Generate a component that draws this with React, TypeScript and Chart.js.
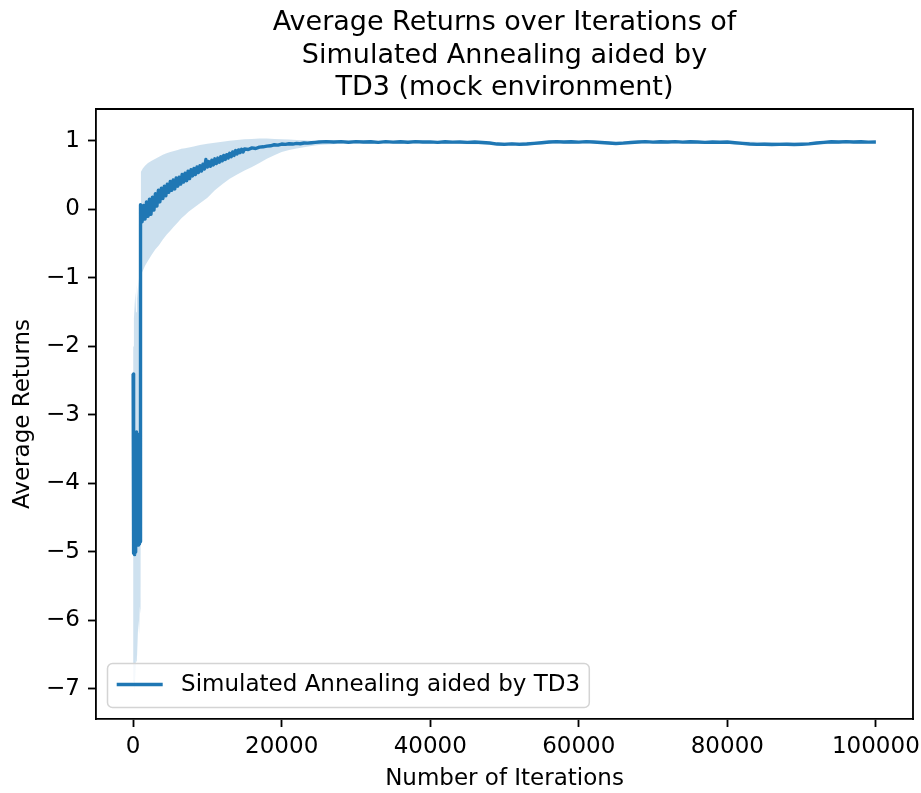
import React, { useEffect, useRef } from "react";
import { Chart, registerables } from "chart.js";

Chart.register(...registerables);

// ---------------- data ----------------
const TITLE_LINES = [
  "Average Returns over Iterations of",
  "Simulated Annealing aided by",
  "TD3 (mock environment)",
];
const SERIES_LABEL = "Simulated Annealing aided by TD3";
const X_TITLE = "Number of Iterations";
const Y_TITLE = "Average Returns";
const X_TICKS = [0, 20000, 40000, 60000, 80000, 100000];
const Y_TICKS = [-7, -6, -5, -4, -3, -2, -1, 0, 1];

const ITERATIONS = [
  0, 25, 50, 75, 100, 125, 150, 175, 200, 225, 250, 275, 300, 325, 350, 375, 400,
  425, 450, 475, 500, 525, 550, 575, 600, 625, 650, 675, 700, 725, 750, 775, 800,
  825, 850, 875, 900, 925, 950, 975, 1000,
  1050, 1200, 1400, 1600, 1800, 2000, 2200, 2400, 2600, 2800, 3000, 3200, 3400,
  3600, 3800, 4000, 4200, 4400, 4600, 4800, 5000, 5200, 5400, 5600, 5800, 6000,
  6200, 6400, 6600, 6800, 7000, 7200, 7400, 7600, 7800, 8000, 8200, 8400, 8600,
  8800, 9000, 9200, 9400, 9600, 9800, 10000, 10200, 10400, 10600, 10800, 11000,
  11200, 11400, 11600, 11800, 12000, 12200, 12400, 12600, 12800, 13000, 13200,
  13400, 13600, 13800, 14000, 14200, 14400, 14600, 14800, 15000,
  15500, 16000, 16500, 17000, 17500, 18000, 18500, 19000, 19500, 20000, 20500,
  21000, 21500, 22000, 22500, 23000, 23500, 24000, 24500, 25000,
  26000, 27000, 28000, 29000, 30000, 31000, 32000, 33000, 34000, 35000, 36000,
  37000, 38000, 39000, 40000, 41000, 42000, 43000, 44000, 45000, 46000, 47000,
  48000, 49000, 50000, 51000, 52000, 53000, 54000, 55000, 56000, 57000, 58000,
  59000, 60000, 61000, 62000, 63000, 64000, 65000, 66000, 67000, 68000, 69000,
  70000, 71000, 72000, 73000, 74000, 75000, 76000, 77000, 78000, 79000, 80000,
  81000, 82000, 83000, 84000, 85000, 86000, 87000, 88000, 89000, 90000, 91000,
  92000, 93000, 94000, 95000, 96000, 97000, 98000, 99000, 100000,
];

const AVG_RETURNS = [
  -2.4, -4.98, -3.45, -5.02, -3.6, -4.7, -3.4, -5.04, -3.9, -4.85, -3.38, -4.95,
  -3.7, -5.0, -3.5, -4.6, -3.26, -4.88, -3.3, -4.5, -3.25, -4.9, -3.6, -4.75,
  -3.28, -4.85, -3.9, -4.6, -3.3, -4.9, -3.5, -4.7, -3.35, -4.88, -3.8, -4.55,
  -3.4, -4.8, -3.7, -4.85, -4.38,
  0.07, -0.18, 0.06, -0.14, 0.11, -0.1, 0.15, -0.07, 0.18, -0.01, 0.23, 0.05, 0.28,
  0.11, 0.31, 0.16, 0.34, 0.2, 0.37, 0.25, 0.41, 0.28, 0.43, 0.3, 0.46, 0.34,
  0.47, 0.37, 0.51, 0.4, 0.53, 0.42, 0.56, 0.45, 0.58, 0.49, 0.6, 0.51, 0.62,
  0.54, 0.64, 0.56, 0.66, 0.59, 0.73, 0.62, 0.7, 0.63, 0.72, 0.65, 0.74,
  0.67, 0.75, 0.69, 0.77, 0.71, 0.79, 0.73, 0.8, 0.75, 0.82, 0.77,
  0.84, 0.79, 0.86, 0.81, 0.87, 0.83, 0.88, 0.84, 0.885,
  0.875, 0.9, 0.89, 0.91, 0.915, 0.925, 0.93, 0.945, 0.94, 0.955, 0.95,
  0.96, 0.955, 0.965, 0.96, 0.97, 0.968, 0.975, 0.98, 0.985,
  0.99, 0.985, 0.99, 0.982, 0.99, 0.985, 0.988, 0.98, 0.99, 0.984, 0.988,
  0.982, 0.99, 0.985, 0.987, 0.98, 0.988, 0.984, 0.986, 0.98, 0.985, 0.978,
  0.97, 0.955, 0.95, 0.958, 0.95, 0.955, 0.965, 0.975, 0.985, 0.99, 0.985,
  0.988, 0.984, 0.99, 0.985, 0.978, 0.97, 0.962, 0.968, 0.978, 0.985, 0.99,
  0.984, 0.988, 0.985, 0.99, 0.983, 0.988, 0.985, 0.98, 0.986, 0.982, 0.985,
  0.975, 0.965, 0.955, 0.95, 0.952, 0.948, 0.95, 0.953, 0.948, 0.952, 0.958,
  0.97, 0.98, 0.988, 0.985, 0.99, 0.985, 0.988, 0.984, 0.985,
];

const BAND_ITERATIONS = [
  0, 100, 200, 300, 400, 500, 600, 700, 800, 900, 1000, 1050, 1300, 1600, 2000,
  2500, 3000, 3500, 4000, 4500, 5000, 5500, 6000, 6500, 7000, 7500, 8000, 9000,
  10000, 11000, 12000, 13000, 14000, 15000, 16000, 17000, 18000, 19000, 20000,
  21000, 22000, 23000, 24000, 25000, 26000, 28000, 30000, 40000, 50000, 60000,
  70000, 80000, 90000, 100000,
];
const BAND_LOWER = [
  -6.2, -6.9, -7.03, -6.8, -6.5, -6.6, -6.3, -6.0, -6.2, -5.8, -5.9, -0.95, -0.9,
  -0.82, -0.75, -0.66, -0.58, -0.52, -0.44, -0.37, -0.31, -0.25, -0.19, -0.13,
  -0.08, -0.03, 0.01, 0.09, 0.17, 0.28, 0.37, 0.45, 0.51, 0.57, 0.62, 0.68, 0.74,
  0.79, 0.84, 0.87, 0.89, 0.91, 0.925, 0.94, 0.95, 0.96, 0.965, 0.965, 0.945,
  0.965, 0.965, 0.96, 0.945, 0.97,
];
const BAND_UPPER = [
  -2.0, -1.6, -1.4, -1.2, -1.5, -1.1, -1.3, -1.0, -1.2, -0.9, -1.0, 0.55, 0.6,
  0.64, 0.68, 0.71, 0.74, 0.77, 0.8, 0.82, 0.84, 0.855, 0.87, 0.885, 0.895,
  0.905, 0.915, 0.94, 0.96, 0.975, 0.99, 1.005, 1.015, 1.025, 1.03, 1.035, 1.035,
  1.03, 1.025, 1.02, 1.015, 1.01, 1.005, 1.0, 1.0, 1.0, 1.0, 1.0, 0.98, 1.0, 1.0,
  0.995, 0.975, 1.0,
];

// ---------------- chart ----------------
const FONT = "'DejaVu Sans', sans-serif";
const BLUE = "#1f77b4";

export default function App() {
  const ref = useRef<HTMLCanvasElement | null>(null);

  useEffect(() => {
    document.body.style.margin = "0";
    const canvas = ref.current;
    if (!canvas) return;

    const decor = {
      id: "mplDecor",
      afterDraw(chart: any) {
        const { ctx, chartArea: a } = chart;
        ctx.save();
        // top & right spines
        ctx.strokeStyle = "#000";
        ctx.lineWidth = 1.83;
        ctx.beginPath();
        ctx.moveTo(a.left - 0.9, a.top);
        ctx.lineTo(a.right, a.top);
        ctx.lineTo(a.right, a.bottom + 0.9);
        ctx.stroke();

        // title
        ctx.fillStyle = "#000";
        ctx.font = `27px ${FONT}`;
        ctx.textAlign = "center";
        ctx.textBaseline = "alphabetic";
        const cx = (a.left + a.right) / 2;
        const n = TITLE_LINES.length;
        TITLE_LINES.forEach((line, i) => {
          ctx.fillText(line, cx, a.top - 14 - (n - 1 - i) * 32.5);
        });

        // legend (lower left)
        ctx.font = `23px ${FONT}`;
        const tw = ctx.measureText(SERIES_LABEL).width;
        const fs = 23;
        const bx = a.left + 0.5 * fs;
        const bh = 44;
        const by = a.bottom - 0.5 * fs - bh;
        const bw = 0.4 * fs + 2 * fs + 0.8 * fs + tw + 0.4 * fs;
        const r = 5;
        ctx.beginPath();
        ctx.moveTo(bx + r, by);
        ctx.arcTo(bx + bw, by, bx + bw, by + bh, r);
        ctx.arcTo(bx + bw, by + bh, bx, by + bh, r);
        ctx.arcTo(bx, by + bh, bx, by, r);
        ctx.arcTo(bx, by, bx + bw, by, r);
        ctx.closePath();
        ctx.fillStyle = "rgba(255,255,255,0.8)";
        ctx.fill();
        ctx.strokeStyle = "#d4d4d4";
        ctx.lineWidth = 1.5;
        ctx.stroke();
        const ly = by + bh / 2 - 1;
        ctx.strokeStyle = BLUE;
        ctx.lineWidth = 3.4;
        ctx.beginPath();
        ctx.moveTo(bx + 0.4 * fs, ly);
        ctx.lineTo(bx + 0.4 * fs + 2 * fs, ly);
        ctx.stroke();
        ctx.fillStyle = "#000";
        ctx.textAlign = "left";
        ctx.textBaseline = "middle";
        ctx.fillText(SERIES_LABEL, bx + 0.4 * fs + 2.8 * fs, by + bh / 2);
        ctx.restore();
      },
    };

    const tickFont = { family: FONT, size: 23 };

    const chart = new Chart(canvas, {
      type: "line",
      data: {
        datasets: [
          {
            label: SERIES_LABEL,
            data: ITERATIONS.map((x, i) => ({ x, y: AVG_RETURNS[i] })),
            borderColor: BLUE,
            borderWidth: 3.4,
            borderJoinStyle: "round",
            pointRadius: 0,
            fill: false,
            tension: 0,
          },
          {
            label: "upper",
            data: BAND_ITERATIONS.map((x, i) => ({ x, y: BAND_UPPER[i] })),
            borderColor: "rgba(0,0,0,0)",
            borderWidth: 0,
            pointRadius: 0,
            backgroundColor: "rgba(31,119,180,0.22)",
            fill: "+1",
            tension: 0,
          },
          {
            label: "lower",
            data: BAND_ITERATIONS.map((x, i) => ({ x, y: BAND_LOWER[i] })),
            borderColor: "rgba(0,0,0,0)",
            borderWidth: 0,
            pointRadius: 0,
            fill: false,
            tension: 0,
          },
        ],
      },
      options: {
        animation: false,
        responsive: true,
        maintainAspectRatio: false,
        devicePixelRatio: 1,
        events: [],
        layout: { padding: { top: 109, right: 8, bottom: 0, left: 0 } },
        plugins: {
          legend: { display: false },
          title: { display: false },
          tooltip: { enabled: false },
        },
        scales: {
          x: {
            type: "linear",
            min: -5000,
            max: 105000,
            afterBuildTicks: (s: any) => {
              s.ticks = X_TICKS.map((v) => ({ value: v }));
            },
            afterFit: (s: any) => {
              s.height = 74;
              s.paddingLeft = 0;
              s.paddingRight = 0;
            },
            ticks: {
              font: tickFont,
              color: "#000",
              padding: 6,
              maxRotation: 0,
              autoSkip: false,
              callback: (v: any) => String(v),
            },
            grid: {
              display: true,
              drawOnChartArea: false,
              drawTicks: true,
              tickLength: 8,
              tickWidth: 1.83,
              tickColor: "#000",
            },
            border: { display: true, color: "#000", width: 1.83 },
            title: {
              display: true,
              text: X_TITLE,
              font: tickFont,
              color: "#000",
              padding: { top: 0, bottom: 0 },
            },
          },
          y: {
            type: "linear",
            min: -7.44,
            max: 1.467,
            afterBuildTicks: (s: any) => {
              s.ticks = Y_TICKS.map((v) => ({ value: v }));
            },
            afterFit: (s: any) => {
              s.width = 96;
              s.paddingTop = 0;
              s.paddingBottom = 0;
            },
            ticks: {
              font: tickFont,
              color: "#000",
              padding: 8,
              autoSkip: false,
              callback: (v: any) => (v < 0 ? "\u2212" + Math.abs(v) : String(v)),
            },
            grid: {
              display: true,
              drawOnChartArea: false,
              drawTicks: true,
              tickLength: 8,
              tickWidth: 1.83,
              tickColor: "#000",
            },
            border: { display: true, color: "#000", width: 1.83 },
            title: {
              display: true,
              text: Y_TITLE,
              font: tickFont,
              color: "#000",
              padding: { top: 9, bottom: 0 },
            },
          },
        },
      },
      plugins: [decor],
    } as any);

    return () => chart.destroy();
  }, []);

  return (
    <div style={{ position: "relative", width: 921, height: 793 }}>
      <canvas ref={ref} />
    </div>
  );
}
